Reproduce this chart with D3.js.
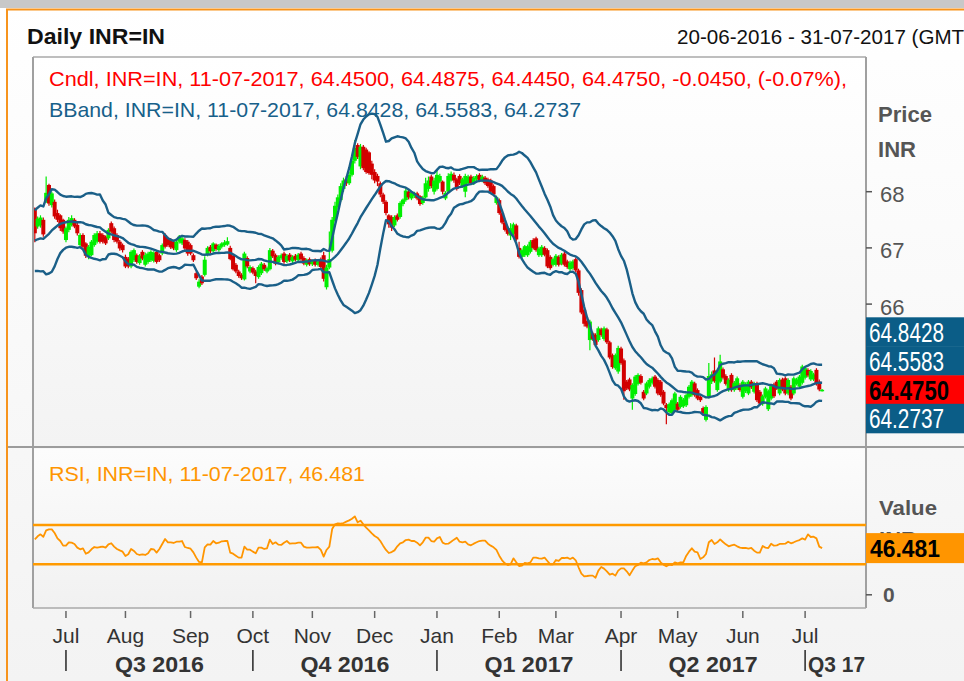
<!DOCTYPE html>
<html><head><meta charset="utf-8">
<script src="https://cdn.jsdelivr.net/npm/d3@7"></script>
<style>html,body{margin:0;padding:0;background:#fff;} svg{display:block;}</style>
</head><body><svg id="c" width="964" height="681"></svg>
<script>
// ---------------- DATA ----------------
const startDate = new Date(2016, 5, 16);   // first trading day shown (weekdays only)
const opens = [
67.70,67.38,67.40,67.50,67.82,68.12,67.76,67.82,67.62,67.58,
67.50,67.14,67.32,67.41,67.50,67.41,67.05,67.23,67.08,66.84,
66.87,67.05,67.11,67.26,67.23,67.20,67.17,67.44,67.35,67.23,
67.11,67.05,66.84,66.81,66.67,66.78,66.87,66.73,66.93,66.70,
66.75,66.78,66.77,66.93,66.87,66.90,67.23,67.17,67.14,67.11,
66.96,67.11,67.08,67.14,67.11,67.05,66.87,66.55,66.31,66.49,
66.52,66.88,67.02,66.94,67.06,66.96,67.02,67.05,67.06,67.00,
66.86,66.70,66.58,66.52,66.44,66.82,66.58,66.64,66.58,66.48,
66.55,66.70,66.58,66.62,66.95,66.87,66.74,66.82,66.90,66.76,
66.88,66.76,66.86,66.78,66.90,66.82,66.70,66.80,66.71,66.78,
66.70,66.80,66.87,66.30,66.65,66.95,67.48,67.72,67.85,68.05,
68.22,68.15,68.30,68.55,68.83,68.45,68.80,68.75,68.70,68.50,
68.35,68.28,68.15,67.95,67.82,67.58,67.55,67.40,67.58,67.55,
67.78,67.85,68.00,67.88,67.92,67.97,67.92,67.80,67.90,68.05,
68.27,68.00,68.05,68.18,68.18,67.88,68.00,68.20,68.30,68.22,
68.28,68.10,68.00,68.15,68.27,68.15,68.22,68.30,68.20,68.25,
68.22,68.20,68.10,67.80,67.85,67.62,67.45,67.35,67.22,67.25,
67.40,67.00,66.84,66.87,66.87,66.93,67.14,67.17,66.87,66.87,
67.00,66.96,66.84,66.70,66.70,66.84,66.72,66.90,66.76,66.62,
66.64,66.80,66.60,66.25,65.90,65.70,65.36,65.48,65.45,65.36,
65.55,65.38,65.55,65.32,65.09,64.86,64.80,65.21,65.00,64.62,
64.66,64.32,64.40,64.58,64.72,64.44,64.41,64.53,64.60,64.71,
64.65,64.62,64.44,64.21,64.08,64.06,64.12,64.23,64.17,64.18,
64.20,64.35,64.38,64.59,64.47,64.35,64.15,63.94,64.35,64.62,
64.82,64.47,64.62,64.84,64.72,64.47,64.74,64.47,64.50,64.56,
64.35,64.45,64.41,64.62,64.44,64.59,64.44,64.22,64.35,64.13,
64.32,64.57,64.62,64.41,64.66,64.68,64.41,64.53,64.41,64.58,
64.53,64.60,64.69,64.83,64.66,64.66,64.83,64.62,64.45];
const highs = [
67.72,67.56,67.58,67.54,68.27,68.14,68.00,67.86,67.68,67.60,
67.52,67.38,67.55,67.58,67.53,67.45,67.26,67.26,67.10,67.05,
67.14,67.26,67.30,67.30,67.26,67.22,67.35,67.47,67.38,67.26,
67.14,67.08,66.88,66.84,66.96,66.99,66.90,66.89,66.96,66.92,
66.93,66.96,66.94,66.96,66.90,67.08,67.26,67.20,67.17,67.14,
67.14,67.23,67.20,67.17,67.14,67.08,66.90,66.58,66.44,66.52,
66.85,67.03,67.05,67.10,67.08,67.07,67.10,67.14,67.19,67.04,
66.89,66.73,66.61,66.55,66.93,66.85,66.69,66.67,66.61,66.69,
66.75,66.73,66.67,67.00,66.98,66.90,66.87,66.90,66.93,66.89,
66.91,66.87,66.89,66.91,66.93,66.85,66.81,66.83,66.79,66.81,
66.79,66.83,66.93,66.70,67.29,67.55,67.82,67.95,68.15,68.25,
68.28,68.36,68.60,68.92,68.86,68.85,68.83,68.78,68.72,68.55,
68.40,68.32,68.18,67.98,67.85,67.60,67.58,67.58,67.61,67.83,
67.88,68.06,68.03,68.01,68.00,68.00,67.94,67.93,68.25,68.27,
68.30,68.25,68.40,68.32,68.20,68.01,68.33,68.36,68.34,68.25,
68.31,68.25,68.32,68.30,68.30,68.28,68.31,68.33,68.30,68.28,
68.25,68.23,68.13,67.93,67.88,67.65,67.48,67.38,67.44,67.45,
67.43,67.11,66.99,67.05,67.06,67.14,67.17,67.20,67.02,67.05,
67.03,66.99,66.87,66.83,66.89,66.87,66.91,66.93,66.79,66.77,
66.79,66.83,66.63,66.28,65.92,65.73,65.72,65.51,65.48,65.60,
65.58,65.60,65.58,65.35,65.12,65.12,65.26,65.24,65.03,64.65,
64.69,64.59,64.74,64.77,64.75,64.47,64.62,64.68,64.71,64.74,
64.68,64.65,64.47,64.24,64.25,64.32,64.44,64.26,64.38,64.33,
64.41,64.56,64.65,64.62,64.50,64.38,64.18,64.20,64.95,64.80,
65.05,64.85,65.10,64.87,64.75,64.68,64.77,64.63,64.71,64.59,
64.65,64.61,64.65,64.65,64.62,64.62,64.47,64.39,64.53,64.48,
64.57,64.60,64.65,64.68,64.69,64.71,64.68,64.56,64.71,64.69,
64.74,64.92,64.89,64.86,64.84,64.78,64.86,64.66,64.4875];
const lows = [
67.10,67.34,67.36,67.20,67.80,67.75,67.72,67.52,67.46,67.30,
67.25,67.10,67.28,67.38,67.35,67.22,67.02,66.98,66.82,66.80,
66.85,67.02,67.08,67.08,67.08,67.05,67.14,67.26,67.10,67.08,
66.95,66.92,66.64,66.64,66.64,66.75,66.72,66.70,66.78,66.67,
66.72,66.75,66.74,66.72,66.75,66.87,66.99,67.02,66.98,66.96,
66.93,67.08,67.05,66.96,66.86,66.87,66.75,66.43,66.28,66.34,
66.49,66.85,66.90,66.92,66.95,66.93,66.99,67.02,67.04,66.78,
66.60,66.55,66.47,66.43,66.42,66.64,66.55,66.53,66.37,66.45,
66.52,66.59,66.55,66.60,66.82,66.69,66.71,66.79,66.72,66.73,
66.75,66.73,66.76,66.75,66.77,66.69,66.67,66.68,66.68,66.67,
66.67,66.63,66.40,66.26,66.62,66.92,67.45,67.68,67.82,68.00,
68.10,68.12,68.27,68.50,68.58,68.40,68.38,68.32,68.30,68.22,
68.15,68.10,67.90,67.78,67.58,67.36,67.30,67.37,67.47,67.52,
67.74,67.82,67.86,67.85,67.89,67.85,67.75,67.77,67.88,68.00,
68.06,67.95,68.02,68.15,67.95,67.85,67.98,68.18,68.16,68.02,
68.12,68.07,67.90,68.12,68.12,68.12,68.19,68.17,68.17,68.12,
68.07,67.97,67.92,67.77,67.59,67.42,67.29,67.22,67.14,67.22,
67.12,66.81,66.81,66.84,66.84,66.90,66.97,66.93,66.84,66.84,
66.85,66.64,66.61,66.67,66.67,66.67,66.69,66.67,66.63,66.59,
66.61,66.57,66.15,65.82,65.60,65.57,65.18,65.35,65.24,65.33,
65.42,65.35,65.29,65.02,64.85,64.83,64.76,64.92,64.30,64.47,
64.45,64.12,64.37,64.55,64.57,64.29,64.38,64.50,64.57,64.50,
64.38,64.35,64.20,63.86,64.05,64.03,64.09,64.09,64.14,64.15,
64.17,64.32,64.35,64.35,64.29,64.26,64.03,63.91,64.32,64.58,
64.60,64.44,64.59,64.66,64.55,64.44,64.44,64.44,64.47,64.44,
64.32,64.42,64.38,64.49,64.41,64.26,64.20,64.19,64.32,64.10,
64.29,64.33,64.47,64.38,64.45,64.38,64.38,64.29,64.38,64.55,
64.50,64.57,64.66,64.70,64.63,64.63,64.55,64.45,64.445];
const closes = [
67.26,67.52,67.54,67.24,67.98,67.79,67.97,67.56,67.50,67.35,
67.29,67.35,67.50,67.53,67.38,67.26,67.23,67.02,66.86,67.02,
67.11,67.23,67.26,67.11,67.11,67.08,67.32,67.29,67.14,67.11,
66.99,66.96,66.67,66.67,66.93,66.96,66.75,66.86,66.81,66.87,
66.90,66.93,66.91,66.75,66.78,67.05,67.02,67.05,67.01,66.99,
67.11,67.20,67.17,66.99,66.90,66.90,66.78,66.46,66.40,66.37,
66.79,67.00,66.94,67.08,66.98,67.04,67.08,67.10,67.12,66.80,
66.62,66.58,66.50,66.46,66.90,66.67,66.66,66.56,66.50,66.66,
66.72,66.62,66.64,66.96,66.85,66.72,66.84,66.87,66.75,66.86,
66.78,66.84,66.79,66.88,66.80,66.72,66.78,66.71,66.76,66.70,
66.76,66.66,66.45,66.65,66.80,67.50,67.75,67.90,68.10,68.20,
68.15,68.30,68.55,68.78,68.62,68.80,68.42,68.35,68.33,68.30,
68.20,68.18,67.95,67.82,67.62,67.42,67.36,67.55,67.50,67.80,
67.86,68.02,67.90,67.98,67.98,67.88,67.78,67.90,68.15,68.20,
68.10,68.20,68.30,68.28,68.00,67.98,68.28,68.32,68.20,68.05,
68.15,68.22,68.28,68.27,68.15,68.25,68.28,68.20,68.27,68.15,
68.10,68.00,67.95,67.90,67.62,67.45,67.32,67.25,67.35,67.42,
67.15,66.84,66.96,67.03,67.03,67.11,67.00,66.96,66.99,67.02,
66.88,66.67,66.64,66.80,66.86,66.70,66.88,66.70,66.66,66.74,
66.76,66.60,66.20,65.85,65.65,65.60,65.69,65.38,65.27,65.57,
65.45,65.57,65.32,65.05,64.88,65.09,65.22,64.95,64.45,64.50,
64.48,64.56,64.71,64.74,64.60,64.32,64.59,64.65,64.68,64.53,
64.41,64.38,64.23,64.15,64.22,64.29,64.41,64.12,64.35,64.30,
64.38,64.53,64.62,64.38,64.32,64.29,64.06,64.17,64.72,64.75,
64.63,64.80,64.98,64.69,64.58,64.65,64.47,64.60,64.68,64.47,
64.62,64.58,64.62,64.52,64.59,64.29,64.23,64.36,64.50,64.45,
64.54,64.36,64.50,64.65,64.48,64.41,64.65,64.32,64.68,64.66,
64.71,64.89,64.86,64.73,64.81,64.75,64.58,64.48,64.475];
// closes of the 19 sessions before the first candle (needed for the 20-day bands)
const priorCloses = [67.02,67.22,67.42,67.09,66.89,66.76,66.69,66.62,66.76,66.96,
67.09,67.29,67.49,67.56,67.36,67.16,67.22,67.42,67.29];
const rsiValues = [
55.4,58.5,60.5,58,64.6,65.6,65.6,61.9,56.4,53.7,
49,49,52.4,52,50.7,47,45.3,46.3,40.8,42.2,
45.3,47.6,47,47.6,48,47,50.3,51.4,48,45.6,
44.2,42.9,38.5,40.2,45.6,43.6,40.5,39.5,40.2,39.5,
41.2,45.6,45.3,41.9,45.6,50.7,55.8,52.4,52.4,51.7,
53,53,53.7,47.6,46.6,45.9,42.2,36.8,32.4,32,
47.3,50.3,50,53.7,51.4,52,53.4,53.7,53.7,41.9,
40.8,38.8,36.8,36.8,48,44.9,44.9,42.9,41.2,47,
47,45.6,46.3,55.1,50.7,52.4,50,49.7,52,53.7,
51,51.4,51.4,52,52,48,47,47,47.3,47.3,
47.6,44.6,37.8,44.6,48,65.9,70.7,71.7,71.4,72,
73.4,74.7,76.4,78.8,72.7,74.4,70.7,67.3,64.6,61.5,
58.8,57.1,53.7,49,44.6,41.5,42.5,44.2,48.3,51.4,
52.4,54.7,55.1,53.7,53.7,52,49.3,52.4,57.1,57.1,
53.7,53,56.4,57.8,52,50.7,51,53,55.1,57.1,
53,52.4,53,50.3,49.3,51,52.4,53.7,54.1,54.1,
51,49,47.3,44.6,38.8,34.1,31,29.3,30,36.1,
32,28.3,28.6,31.4,31,32,36.8,36.8,36.1,35.8,
36.8,33.4,30,30,34.4,33.4,36.4,36.4,36.8,35.4,
36.8,34.1,27,20.5,17.8,18.1,18.5,18.5,16.4,23.6,
27.3,25.6,22.9,19.5,20.5,18.5,23.6,25.9,25.9,22.9,
18.8,23.6,28,29.3,31.7,31,32,34.4,35.4,35.1,
36.1,32,29.7,28,29.7,29.3,32,31,32,32,
38.5,42.9,46.3,42.9,42.2,35.4,37.1,40.5,52.4,54.7,
50.7,52.4,55.4,52.7,50.3,48.3,49.3,50,48.3,47,
46.6,46.6,45.9,46.6,43.9,41.9,41.9,48.6,47,46.6,
51,49,49.3,50.7,50.7,51,53,51.4,52.4,53.7,
54.7,56.4,55.1,60.5,57.8,58.1,56.4,48,46.481];
const priceTicks = [66, 67, 68];
const rsiTicks = [0];
const rsiLevels = [70, 30];
const quarterNames = ["Q3 2016", "Q4 2016", "Q1 2017", "Q2 2017", "Q3 17"];
const titleText = "Daily INR=IN";
const rangeText = "20-06-2016 - 31-07-2017 (GMT)";
const lastDateText = "11-07-2017";
const cndlChange = "-0.0450", cndlPct = "(-0.07%)";
const bbLegend = [64.8428, 64.5583, 64.2737];

// ---------------- SETUP ----------------
const W = 964, H = 681;
const FONT = "'Liberation Sans', Arial, Helvetica, sans-serif";
const svg = d3.select("#c");
const defs = svg.append("defs");
function grad(id, c1, c2){
  const g = defs.append("linearGradient").attr("id", id).attr("x1",0).attr("y1",0).attr("x2",0).attr("y2",1);
  g.append("stop").attr("offset","0%").attr("stop-color",c1);
  g.append("stop").attr("offset","100%").attr("stop-color",c2);
}
grad("bgAll", "#ffffff", "#f3f3f3");
grad("bgP", "#ffffff", "#f3f3f3");
grad("bgR", "#fcfcfc", "#f1f1f1");

const n = closes.length;
const dates = [];
{ let d = new Date(startDate); while (dates.length < n + 20) { const wd = d.getDay(); if (wd !== 0 && wd !== 6) dates.push(new Date(d)); d = d3.timeDay.offset(d, 1); } }

const PL = 33, PR = 866, PT = 57, PB = 447, RT = 449, RB = 608;
const xS = d3.scaleLinear().domain([-0.5, 293.5]).range([33.4, 866]);
const yP = d3.scaleLinear().domain([64, 68]).range([416.5, 191.7]);
const yR = d3.scaleLinear().domain([0, 70]).range([593.8, 525]);

function T(x, y, s, o = {}){
  const t = svg.append("text").attr("x", x).attr("y", y).text(s)
    .attr("font-family", FONT).attr("font-size", o.size || 21)
    .attr("font-weight", o.weight || "normal").attr("fill", o.fill || "#333")
    .attr("text-anchor", o.anchor || "start");
  if (o.len) t.attr("textLength", o.len).attr("lengthAdjust", "spacingAndGlyphs");
  return t;
}

// background & frame
svg.append("rect").attr("width", W).attr("height", H).attr("fill", "url(#bgAll)");
svg.append("rect").attr("x",0).attr("y",0).attr("width",W).attr("height",8).attr("fill","#c8c8c8");
svg.append("line").attr("x1",6).attr("x2",W).attr("y1",9.5).attr("y2",9.5).attr("stroke","#f7941d").attr("stroke-width",2);
svg.append("line").attr("x1",7).attr("x2",7).attr("y1",9).attr("y2",H).attr("stroke","#f7941d").attr("stroke-width",2);

// panels
svg.append("rect").attr("x",PL).attr("y",PT).attr("width",PR-PL).attr("height",PB-PT).attr("fill","url(#bgP)");
svg.append("rect").attr("x",PL).attr("y",RT).attr("width",PR-PL).attr("height",RB-RT).attr("fill","url(#bgR)");
defs.append("clipPath").attr("id","clipP").append("rect").attr("x",PL).attr("y",PT).attr("width",PR-PL).attr("height",PB-PT);
defs.append("clipPath").attr("id","clipR").append("rect").attr("x",PL).attr("y",RT).attr("width",PR-PL).attr("height",RB-RT);

// header
T(27, 44, titleText, {size:22, weight:"bold", fill:"#111", len:138});
T(677, 44, rangeText, {size:21, fill:"#111", len:294});

// ---------------- PRICE PANEL ----------------
const gP = svg.append("g").attr("clip-path","url(#clipP)");
const UP = "#00ee00", DN = "#d20000";
const idx = d3.range(n);
gP.selectAll("line.wick").data(idx).join("line").attr("class","wick")
  .attr("x1", i => xS(i)).attr("x2", i => xS(i))
  .attr("y1", i => yP(highs[i])).attr("y2", i => yP(lows[i]))
  .attr("stroke", i => closes[i] >= opens[i] ? UP : DN).attr("stroke-width", 1.2);
gP.selectAll("rect.body").data(idx).join("rect").attr("class","body")
  .attr("x", i => xS(i) - 2).attr("width", 4)
  .attr("y", i => yP(Math.max(opens[i], closes[i])))
  .attr("height", i => Math.max(1.5, Math.abs(yP(opens[i]) - yP(closes[i]))))
  .attr("fill", i => closes[i] >= opens[i] ? UP : DN);

// Bollinger bands (20, 2)
const all = priorCloses.concat(closes);
const off = priorCloses.length;
const bb = idx.map(i => {
  const w = all.slice(i + off - 19, i + off + 1);
  const m = d3.mean(w);
  const sd = Math.sqrt(d3.mean(w, v => (v - m) * (v - m)));
  return {i, mid: m, up: m + 2 * sd, lo: m - 2 * sd};
});
const BC = "#1a5f88";
["up","mid","lo"].forEach(k => {
  gP.append("path").datum(bb).attr("fill","none").attr("stroke",BC).attr("stroke-width",2.4)
    .attr("stroke-linejoin","round")
    .attr("d", d3.line().x(d => xS(d.i)).y(d => yP(d[k])));
});

// legend texts
const fmt4 = d3.format(".4f");
T(49, 86, `Cndl, INR=IN, ${lastDateText}, ${fmt4(opens[n-1])}, ${fmt4(highs[n-1])}, ${fmt4(lows[n-1])}, ${fmt4(closes[n-1])}, ${cndlChange}, ${cndlPct},`,
  {size:21, fill:"#ff0000", len:798});
T(49, 117, `BBand, INR=IN, ${lastDateText}, ${bbLegend.map(fmt4).join(", ")}`, {size:21, fill:"#17608a", len:532});

// panel borders
svg.append("line").attr("x1",PL).attr("x2",PR).attr("y1",PT).attr("y2",PT).attr("stroke","#a8a8a8").attr("stroke-width",1.5);
svg.append("line").attr("x1",PL).attr("x2",PL).attr("y1",PT).attr("y2",RB).attr("stroke","#a0a0a0").attr("stroke-width",2);
svg.append("line").attr("x1",PR).attr("x2",PR).attr("y1",PT).attr("y2",RB).attr("stroke","#a0a0a0").attr("stroke-width",2);
svg.append("line").attr("x1",8).attr("x2",W).attr("y1",PB).attr("y2",PB).attr("stroke","#9c9c9c").attr("stroke-width",2);
svg.append("line").attr("x1",PL).attr("x2",PR).attr("y1",RB).attr("y2",RB).attr("stroke","#a8a8a8").attr("stroke-width",1.5);

// price axis
T(878, 122, "Price", {size:22, weight:"bold", fill:"#555", len:54});
T(878, 157, "INR", {size:22, weight:"bold", fill:"#555", len:38});
priceTicks.forEach(v => {
  svg.append("line").attr("x1",PR).attr("x2",PR+6).attr("y1",yP(v)).attr("y2",yP(v)).attr("stroke","#555").attr("stroke-width",1.5);
  T(880, yP(v) + 10.5, String(v), {size:22, fill:"#555"});
});
// value boxes (stacked around the last close)
const yc = yP(closes[n-1]);
const boxes = [
  {c: yc - 58, v: bbLegend[0], bg:"#0b5d87", fg:"#fff", w:"normal", len:75},
  {c: yc - 29, v: bbLegend[1], bg:"#0b5d87", fg:"#fff", w:"normal", len:75},
  {c: yc, v: closes[n-1], bg:"#ff0000", fg:"#000", w:"bold", len:80},
  {c: yc + 28.5, v: bbLegend[2], bg:"#0b5d87", fg:"#fff", w:"normal", len:75}
];
boxes.forEach(b => {
  svg.append("rect").attr("x",PR).attr("y",b.c - 14.5).attr("width",W-PR).attr("height",29.5).attr("fill",b.bg);
});
boxes.forEach(b => {
  T(869, b.c + 10, fmt4(b.v), {size:27, weight:b.w, fill:b.fg, len:b.len});
});

// ---------------- RSI PANEL ----------------
const gR = svg.append("g").attr("clip-path","url(#clipR)");
rsiLevels.forEach(v => {
  gR.append("line").attr("x1",PL).attr("x2",PR).attr("y1",yR(v)).attr("y2",yR(v)).attr("stroke","#ff9a00").attr("stroke-width",2.5);
});
gR.append("path").datum(rsiValues).attr("fill","none").attr("stroke","#ff9500").attr("stroke-width",1.8)
  .attr("stroke-linejoin","round")
  .attr("d", d3.line().x((d,i) => xS(i)).y(d => yR(d)));
T(49, 481, `RSI, INR=IN, ${lastDateText}, ${d3.format(".3f")(rsiValues[n-1])}`, {size:21, fill:"#ff9500", len:316});

T(879, 515, "Value", {size:21, weight:"bold", fill:"#555", len:58});
T(879, 546, "INR", {size:21, weight:"bold", fill:"#555", len:38});
const yr = yR(rsiValues[n-1]);
svg.append("rect").attr("x",PR).attr("y",yr - 15).attr("width",W-PR).attr("height",30).attr("fill","#ff9500");
T(870, yr + 8.5, d3.format(".3f")(rsiValues[n-1]), {size:23, weight:"bold", fill:"#000", len:70});
rsiTicks.forEach(v => {
  svg.append("line").attr("x1",PR).attr("x2",PR+6).attr("y1",yR(v)+1).attr("y2",yR(v)+1).attr("stroke","#555").attr("stroke-width",1.5);
  T(883, yR(v) + 8.5, String(v), {size:21, weight:"bold", fill:"#555"});
});

// ---------------- TIME AXIS ----------------
const monthStarts = [];
dates.forEach((d, i) => {
  if (i === 0 || i >= n) return;
  if (d.getMonth() !== dates[i-1].getMonth()) monthStarts.push({i, d});
});
const fmtM = d3.timeFormat("%b");
monthStarts.forEach(m => {
  const x = xS(m.i);
  svg.append("line").attr("x1",x).attr("x2",x).attr("y1",611).attr("y2",618).attr("stroke","#666").attr("stroke-width",1.5);
  T(x, 643, fmtM(m.d), {size:21, fill:"#333", anchor:"middle"});
});
const qStarts = monthStarts.filter(m => m.d.getMonth() % 3 === 0);
qStarts.forEach(m => {
  const x = xS(m.i);
  svg.append("line").attr("x1",x).attr("x2",x).attr("y1",650).attr("y2",671).attr("stroke","#333").attr("stroke-width",1.6);
});
qStarts.forEach((m, k) => {
  const x0 = xS(m.i), x1 = k + 1 < qStarts.length ? xS(qStarts[k+1].i) : PR;
  const last = k + 1 >= qStarts.length;
  T((x0 + x1) / 2 + (last ? 1 : 0), 672, quarterNames[k], {size:22, weight:"bold", fill:"#333", anchor:"middle", len: last ? 57 : 89});
});
</script>
</body></html>
